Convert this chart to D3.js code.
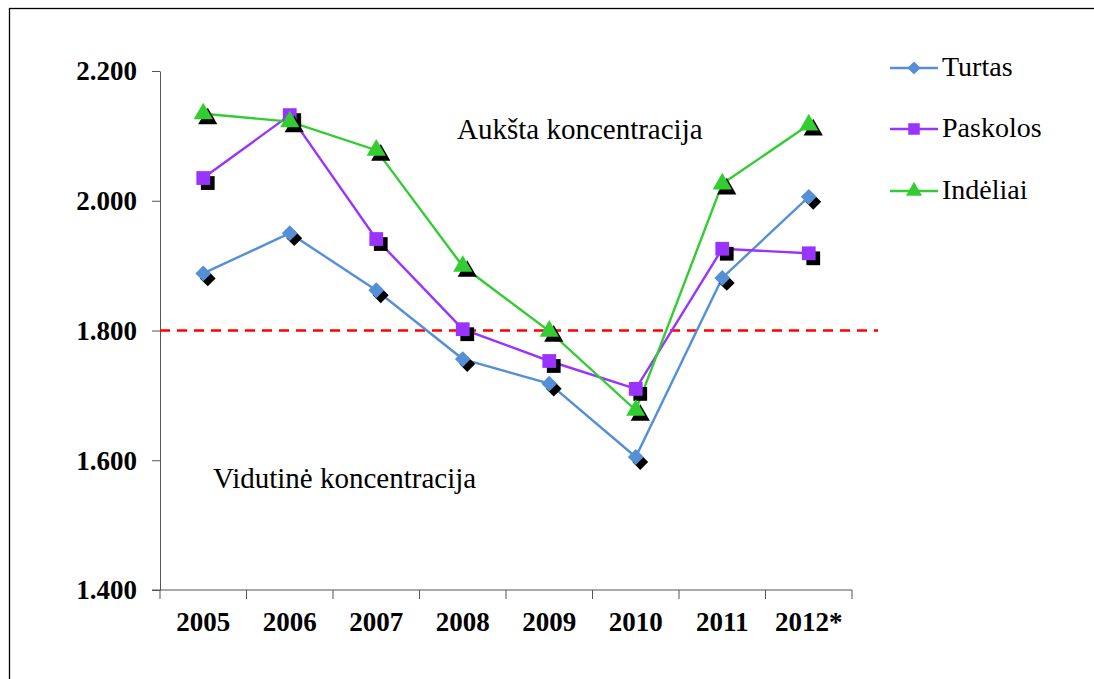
<!DOCTYPE html>
<html><head><meta charset="utf-8">
<script src="https://cdn.jsdelivr.net/npm/d3@7"></script>
<style>body{margin:0;background:#fff}svg{display:block}
svg text{font-family:"Liberation Serif","Times New Roman",Times,serif;}
</style>
</head><body>
<svg id="c" width="1094" height="679"></svg>
<script>
const years = ["2005","2006","2007","2008","2009","2010","2011","2012*"];
const turtas = [1.888, 1.950, 1.862, 1.756, 1.718, 1.605, 1.881, 2.006];
const paskolos = [2.035, 2.132, 1.941, 1.802, 1.753, 1.710, 1.926, 1.919];
const indeliai = [2.134, 2.122, 2.078, 1.899, 1.799, 1.677, 2.026, 2.117];
const yTicks = [1.4, 1.6, 1.8, 2.0, 2.2];
const threshold = 1.8;
const seriesNames = ["Turtas", "Paskolos", "Indėliai"];
const seriesColors = ["#5590D6", "#9933FF", "#33CC33"];
const labelHigh = "Aukšta koncentracija";
const labelMid = "Vidutinė koncentracija";

const series = [turtas, paskolos, indeliai];
const svg = d3.select("#c");

svg.append("rect").attr("x",9.5).attr("y",8.5).attr("width",1200).attr("height",800)
  .attr("fill","none").attr("stroke","#000").attr("stroke-width",1.3);

const x = d3.scaleBand().domain(years).range([160, 852]);
const y = d3.scaleLinear().domain([1.4, 2.2]).range([590, 71]);

// axes
const yAxis = svg.append("g").attr("transform","translate(160,0)")
  .call(d3.axisLeft(y).tickValues(yTicks).tickFormat(d3.format(".3f")).tickSizeInner(8).tickSizeOuter(0));
yAxis.select(".domain").attr("stroke","#555");
yAxis.selectAll(".tick line").attr("stroke","#555");
yAxis.selectAll("text").attr("font-family",null).attr("font-weight","bold").attr("font-size",27)
  .attr("fill","#000").attr("x",-23).attr("dy","0.33em");

const xg = svg.append("g").attr("transform","translate(0,590)");
xg.append("line").attr("x1",152).attr("x2",852).attr("y1",0).attr("y2",0).attr("stroke","#555");
const bounds = years.map(yr => x(yr)).concat([x(years[years.length-1]) + x.bandwidth()]);
xg.selectAll("line.t").data(bounds).join("line").attr("class","t")
  .attr("x1",d=>d).attr("x2",d=>d).attr("y1",0).attr("y2",9).attr("stroke","#555");
xg.selectAll("text").data(years).join("text")
  .attr("x",d=>x(d)+x.bandwidth()/2).attr("y",41).attr("text-anchor","middle")
  .attr("font-weight","bold").attr("font-size",27).attr("fill","#000").text(d=>d);

// threshold
svg.append("line").attr("x1",160).attr("x2",878).attr("y1",y(threshold)).attr("y2",y(threshold))
  .attr("stroke","#FF0000").attr("stroke-width",2.5).attr("stroke-dasharray","10,7");

// labels
svg.append("text").attr("x",457).attr("y",139).attr("font-size",29).text(labelHigh);
svg.append("text").attr("x",213).attr("y",488).attr("font-size",29).text(labelMid);

const cx = d => x(d) + x.bandwidth()/2;
// marker shapes: diamond = rotated square
const shapes = [
  {type:d3.symbolSquare, size:125, rot:45},
  {type:d3.symbolSquare, size:190, rot:0},
  {type:d3.symbolTriangle, size:160, rot:0}
];

series.forEach((vals, i) => {
  const line = d3.line().x((d,j)=>cx(years[j])).y(d=>y(d));
  svg.append("path").datum(vals).attr("d", line).attr("fill","none")
    .attr("stroke", seriesColors[i]).attr("stroke-width",2.4);
});
series.forEach((vals, i) => {
  const g = svg.append("g");
  const s = shapes[i];
  const sym = d3.symbol().type(s.type).size(s.size);
  g.selectAll("path.s").data(vals).join("path").attr("class","s")
    .attr("transform",(d,j)=>`translate(${cx(years[j])+4.5},${y(d)+5}) rotate(${s.rot})`)
    .attr("d", sym).attr("fill","#000");
  g.selectAll("path.m").data(vals).join("path").attr("class","m")
    .attr("transform",(d,j)=>`translate(${cx(years[j])},${y(d)}) rotate(${s.rot})`)
    .attr("d", sym).attr("fill", seriesColors[i]);
});

// legend
const lg = svg.append("g");
const legY = [68, 129, 191];
seriesNames.forEach((n, i) => {
  lg.append("line").attr("x1",890).attr("x2",938).attr("y1",legY[i]).attr("y2",legY[i])
    .attr("stroke",seriesColors[i]).attr("stroke-width",2.4);
  const s = shapes[i];
  lg.append("path").attr("transform",`translate(914,${legY[i]}) rotate(${s.rot})`)
    .attr("d", d3.symbol().type(s.type).size(s.size*0.7)).attr("fill",seriesColors[i]);
  lg.append("text").attr("x",942).attr("y",legY[i]+8).attr("font-size",28).text(n);
});
</script>
</body></html>
